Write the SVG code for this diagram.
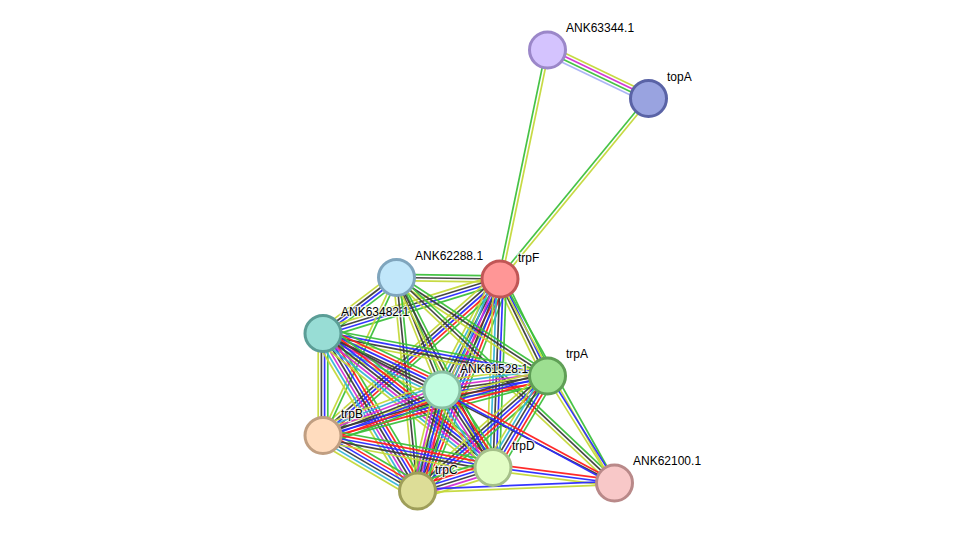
<svg xmlns="http://www.w3.org/2000/svg" xmlns:xlink="http://www.w3.org/1999/xlink" width="976" height="537" viewBox="0 0 976 537">
<style>
line{stroke-width:1.7;fill:none;stroke-opacity:0.95}
.g{stroke:#3cc03c}.r{stroke:#ff1f1f}.b{stroke:#2a2aff}.k{stroke:#3c3c3c}
.m{stroke:#d22ed2}.c{stroke:#36b4d6}.y{stroke:#c4d83a}.h{stroke:#a8b0f4}
.node circle{stroke-width:3}
.node text{font-family:"Liberation Sans",Arial,sans-serif;font-size:12px;fill:#000;paint-order:stroke;stroke:#fff;stroke-width:2.5;stroke-opacity:0.75;stroke-linejoin:round}
</style>
<defs>
<g id="S_ymgh"><line x1="0" x2="1" y1="-4.8" y2="-4.8" class="y"/><line x1="0" x2="1" y1="-1.6" y2="-1.6" class="m"/><line x1="0" x2="1" y1="1.6" y2="1.6" class="g"/><line x1="0" x2="1" y1="4.8" y2="4.8" class="h"/></g>
<g id="S_gy"><line x1="0" x2="1" y1="-1.6" y2="-1.6" class="g"/><line x1="0" x2="1" y1="1.6" y2="1.6" class="y"/></g>
<g id="S_by"><line x1="0" x2="1" y1="-1.6" y2="-1.6" class="b"/><line x1="0" x2="1" y1="1.6" y2="1.6" class="y"/></g>
<g id="S_rb"><line x1="0" x2="1" y1="-1.6" y2="-1.6" class="r"/><line x1="0" x2="1" y1="1.6" y2="1.6" class="b"/></g>
<g id="S_k"><line x1="0" x2="1" y1="0" y2="0" class="k"/></g>
<g id="S_gky"><line x1="0" x2="1" y1="-3.2" y2="-3.2" class="g"/><line x1="0" x2="1" y1="0" y2="0" class="k"/><line x1="0" x2="1" y1="3.2" y2="3.2" class="y"/></g>
<g id="S_rby"><line x1="0" x2="1" y1="-3.2" y2="-3.2" class="r"/><line x1="0" x2="1" y1="0" y2="0" class="b"/><line x1="0" x2="1" y1="3.2" y2="3.2" class="y"/></g>
<g id="S_gbky"><line x1="0" x2="1" y1="-4.8" y2="-4.8" class="g"/><line x1="0" x2="1" y1="-1.6" y2="-1.6" class="b"/><line x1="0" x2="1" y1="1.6" y2="1.6" class="k"/><line x1="0" x2="1" y1="4.8" y2="4.8" class="y"/></g>
<g id="S_gbkcy"><line x1="0" x2="1" y1="-6.4" y2="-6.4" class="g"/><line x1="0" x2="1" y1="-3.2" y2="-3.2" class="b"/><line x1="0" x2="1" y1="0" y2="0" class="k"/><line x1="0" x2="1" y1="3.2" y2="3.2" class="c"/><line x1="0" x2="1" y1="6.4" y2="6.4" class="y"/></g>
<g id="S_grbky"><line x1="0" x2="1" y1="-6.4" y2="-6.4" class="g"/><line x1="0" x2="1" y1="-3.2" y2="-3.2" class="r"/><line x1="0" x2="1" y1="0" y2="0" class="b"/><line x1="0" x2="1" y1="3.2" y2="3.2" class="k"/><line x1="0" x2="1" y1="6.4" y2="6.4" class="y"/></g>
<g id="S_grbkcy"><line x1="0" x2="1" y1="-8" y2="-8" class="g"/><line x1="0" x2="1" y1="-4.8" y2="-4.8" class="r"/><line x1="0" x2="1" y1="-1.6" y2="-1.6" class="b"/><line x1="0" x2="1" y1="1.6" y2="1.6" class="k"/><line x1="0" x2="1" y1="4.8" y2="4.8" class="c"/><line x1="0" x2="1" y1="8" y2="8" class="y"/></g>
<g id="S_grbkmy"><line x1="0" x2="1" y1="-8" y2="-8" class="g"/><line x1="0" x2="1" y1="-4.8" y2="-4.8" class="r"/><line x1="0" x2="1" y1="-1.6" y2="-1.6" class="b"/><line x1="0" x2="1" y1="1.6" y2="1.6" class="k"/><line x1="0" x2="1" y1="4.8" y2="4.8" class="m"/><line x1="0" x2="1" y1="8" y2="8" class="y"/></g>
<g id="S_grbkmcy"><line x1="0" x2="1" y1="-9.6" y2="-9.6" class="g"/><line x1="0" x2="1" y1="-6.4" y2="-6.4" class="r"/><line x1="0" x2="1" y1="-3.2" y2="-3.2" class="b"/><line x1="0" x2="1" y1="0" y2="0" class="k"/><line x1="0" x2="1" y1="3.2" y2="3.2" class="m"/><line x1="0" x2="1" y1="6.4" y2="6.4" class="c"/><line x1="0" x2="1" y1="9.6" y2="9.6" class="y"/></g>
</defs>
<rect width="976" height="537" fill="#fff"/>
<g id="edges">
<use href="#S_ymgh" transform="translate(547.5,50) rotate(25.65) scale(112.04,1)"/>
<use href="#S_gy" transform="translate(547.5,50) rotate(101.72) scale(233.87,-1)"/>
<use href="#S_gy" transform="translate(648.5,98.5) rotate(129.44) scale(233.74,-1)"/>
<use href="#S_gky" transform="translate(396.5,277.5) rotate(0.83) scale(103.51,1)"/>
<use href="#S_gbky" transform="translate(396.5,277.5) rotate(142.70) scale(92.40,1)"/>
<use href="#S_gbky" transform="translate(500,279) rotate(162.89) scale(185.20,1)"/>
<use href="#S_gbky" transform="translate(500,279) rotate(63.91) scale(108.01,1)"/>
<use href="#S_grbkcy" transform="translate(500,279) rotate(117.59) scale(125.24,1)"/>
<use href="#S_grbky" transform="translate(500,279) rotate(138.52) scale(236.27,1)"/>
<use href="#S_grbkmcy" transform="translate(500,279) rotate(111.26) scale(227.49,1)"/>
<use href="#S_gbkcy" transform="translate(500,279) rotate(92.13) scale(188.63,1)"/>
<use href="#S_gy" transform="translate(500,279) rotate(60.70) scale(233.94,1)"/>
<use href="#S_gky" transform="translate(396.5,277.5) rotate(33.12) scale(180.29,1)"/>
<use href="#S_gky" transform="translate(396.5,277.5) rotate(67.98) scale(121.35,1)"/>
<use href="#S_gy" transform="translate(396.5,277.5) rotate(114.95) scale(174.26,1)"/>
<use href="#S_gky" transform="translate(396.5,277.5) rotate(84.38) scale(214.53,1)"/>
<use href="#S_gky" transform="translate(396.5,277.5) rotate(63.07) scale(213.10,1)"/>
<use href="#S_gky" transform="translate(396.5,277.5) rotate(43.33) scale(299.64,1)"/>
<use href="#S_gbky" transform="translate(323,333.5) rotate(10.72) scale(228.49,1)"/>
<use href="#S_grbkmcy" transform="translate(323,333.5) rotate(25.40) scale(131.73,1)"/>
<use href="#S_gbky" transform="translate(323,333.5) rotate(90) scale(102,1)"/>
<use href="#S_grbkmcy" transform="translate(323,333.5) rotate(59.04) scale(183.67,1)"/>
<use href="#S_grbkmcy" transform="translate(323,333.5) rotate(38.25) scale(216.46,1)"/>
<use href="#S_k" transform="translate(323,333.5) rotate(27.15) scale(327.60,1)"/>
<use href="#S_grbkmcy" transform="translate(547.5,376) rotate(172.44) scale(106.42,1)"/>
<use href="#S_grbky" transform="translate(547.5,376) rotate(165.16) scale(232.25,1)"/>
<use href="#S_grbky" transform="translate(547.5,376) rotate(138.50) scale(173.57,1)"/>
<use href="#S_grbkcy" transform="translate(547.5,376) rotate(120.78) scale(106.50,1)"/>
<use href="#S_by" transform="translate(547.5,376) rotate(57.95) scale(126.25,1)"/>
<use href="#S_grbkmcy" transform="translate(442,390) rotate(159.07) scale(127.40,1)"/>
<use href="#S_grbkmy" transform="translate(442,390) rotate(103.64) scale(103.93,1)"/>
<use href="#S_grbkmcy" transform="translate(442,390) rotate(56.65) scale(92.78,1)"/>
<use href="#S_rb" transform="translate(442,390) rotate(28.33) scale(195.97,1)"/>
<use href="#S_grbkcy" transform="translate(323,435.5) rotate(30.43) scale(109.59,1)"/>
<use href="#S_grbky" transform="translate(323,435.5) rotate(10.66) scale(172.99,1)"/>
<use href="#S_grbkmy" transform="translate(417.5,491) rotate(-17.29) scale(79.07,1)"/>
<use href="#S_rby" transform="translate(493,467.5) rotate(7.27) scale(122.49,1)"/>
<use href="#S_by" transform="translate(417.5,491) rotate(-2.33) scale(197.16,1)"/>
</g>
<g id="node-ANK63344.1" class="node"><circle cx="547.5" cy="50" r="18" fill="#d4c3fe" stroke="#9b87c9"/><text x="566" y="32">ANK63344.1</text></g>
<g id="node-topA" class="node"><circle cx="648.5" cy="98.5" r="18" fill="#99a3e0" stroke="#5a63a6"/><text x="667" y="81">topA</text></g>
<g id="node-ANK62288.1" class="node"><circle cx="396.5" cy="277.5" r="18" fill="#c1e7fa" stroke="#7fa5bd"/><text x="415" y="260">ANK62288.1</text></g>
<g id="node-trpF" class="node"><circle cx="500" cy="279" r="18" fill="#ff9696" stroke="#c15656"/><text x="518" y="262">trpF</text></g>
<g id="node-ANK63482.1" class="node"><circle cx="323" cy="333.5" r="18" fill="#98ddd5" stroke="#5b9d96"/><text x="341" y="316">ANK63482.1</text></g>
<g id="node-trpA" class="node"><circle cx="547.5" cy="376" r="18" fill="#9ddf91" stroke="#5f9f56"/><text x="566" y="358">trpA</text></g>
<g id="node-ANK61528.1" class="node"><circle cx="442" cy="390" r="18" fill="#c2fde0" stroke="#88c0a3"/><text x="460" y="373">ANK61528.1</text></g>
<g id="node-trpB" class="node"><circle cx="323" cy="435.5" r="18" fill="#ffdcbe" stroke="#c09e81"/><text x="341" y="418">trpB</text></g>
<g id="node-trpD" class="node"><circle cx="493" cy="467.5" r="18" fill="#e2fdc5" stroke="#a5c089"/><text x="512" y="450">trpD</text></g>
<g id="node-trpC" class="node"><circle cx="417.5" cy="491" r="18" fill="#dddd97" stroke="#9e9e59"/><text x="435" y="474">trpC</text></g>
<g id="node-ANK62100.1" class="node"><circle cx="614.5" cy="483" r="18" fill="#f8c8c8" stroke="#b98989"/><text x="633" y="465">ANK62100.1</text></g>
</svg>
